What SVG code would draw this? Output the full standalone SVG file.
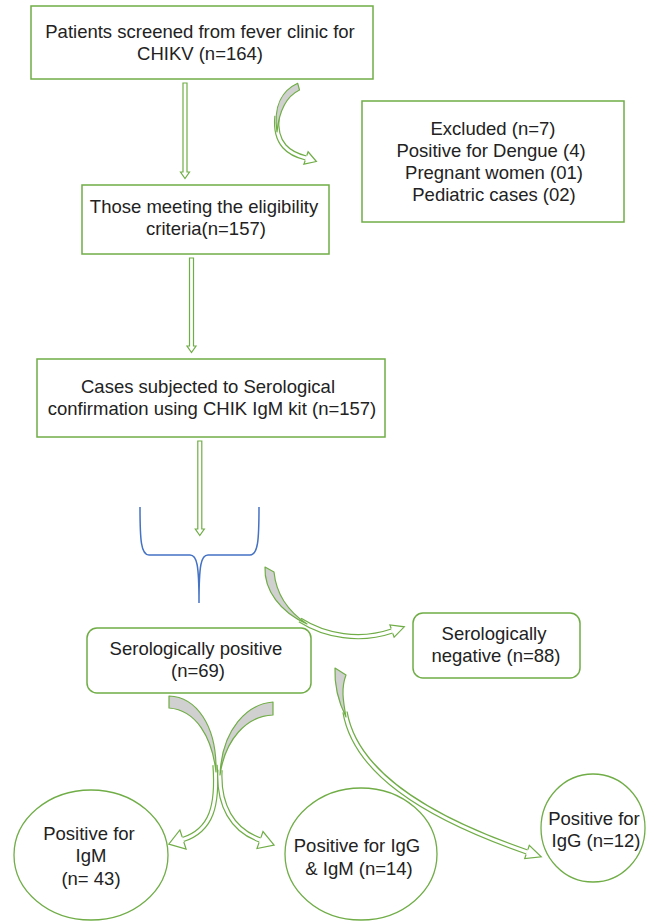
<svg xmlns="http://www.w3.org/2000/svg" width="662" height="923" viewBox="0 0 662 923">
<style>
.box{fill:#fff;stroke:#70AD47;stroke-width:1.5}
.circ{fill:#fff;stroke:#70AD47;stroke-width:1.3}
.t{font-family:"Liberation Sans",Arial,sans-serif;font-size:18.5px;fill:#222;text-anchor:middle}
.arr{fill:#fff;stroke:#70AD47;stroke-width:1.2;stroke-linejoin:miter}
.bandO{fill:none;stroke:#70AD47;stroke-width:5.4}
.bandI{fill:none;stroke:#fff;stroke-width:3}
.lens{fill:#D0D0D0;stroke:#70AD47;stroke-width:1.2;stroke-linejoin:round}
.brace{fill:none;stroke:#4472C4;stroke-width:1.5}
</style>
<rect width="662" height="923" fill="#fff"/>
<g id="connectors">
  <polygon class="arr" points="183,83 187,83 187,172 189.5,172 185,178.5 180.5,172 183,172"/>
  <polygon class="arr" points="189.5,258 193.5,258 193.5,346 196,346 191.5,352.5 187,346 189.5,346"/>
  <polygon class="arr" points="197.8,441 201.8,441 201.8,529 204.3,529 199.8,535.5 195.3,529 197.8,529"/>
  <path class="bandO" d="M277,116 C274,145 290,154 306,158"/>
  <path class="bandI" d="M277,116 C274,145 290,154 306,158"/>
  <path class="lens" d="M297.7,83.3 L299.5,90 C285,97 279,112 277,132 C273,105 283,90 297.7,83.3 Z"/>
  <path class="arr" d="M306.8,155.5 L308.1,151.8 L316.4,161.5 L303.9,164.2 L305.2,160.5"/>
  <path class="brace" d="M140,507 C140,540 141,555 149,555 L190,555 C197,555 199,565 199,603 C199,565 201,555 208,555 L250,555 C258,555 259,540 259,507"/>
  <path class="bandO" d="M300,620 C325,636 360,642 392,631"/>
  <path class="bandI" d="M300,620 C325,636 360,642 392,631"/>
  <path class="lens" d="M265,567 L274,572 C276,592 286,610 307,624 C280,612 264,590 265,567 Z"/>
  <path class="arr" d="M391.2,628.5 L389.9,624.9 L404.3,626.8 L394.1,637.1 L392.8,633.5"/>
  <path class="bandO" d="M345,712 C355,770 420,815 527,852"/>
  <path class="bandI" d="M345,712 C355,770 420,815 527,852"/>
  <path class="lens" d="M335,668 L346,675 C341,688 343,700 346,717 C340,705 334,690 335,668 Z"/>
  <path class="arr" d="M527.9,849.5 L529.3,845.4 L541.2,856.9 L524.7,858.6 L526.1,854.5"/>
  <path class="bandO" d="M215,765 C218,805 212,830 183,839.5"/>
  <path class="bandI" d="M215,765 C218,805 212,830 183,839.5"/>
  <path class="lens" d="M169,696 C196,697 217,725 216,772 C212,737 196,710 169,708 Z"/>
  <path class="arr" d="M182.2,837 L179.9,830 L168.8,844.2 L186.1,849 L183.8,842"/>
  <path class="bandO" d="M220,770 C218,805 232,830 260,840"/>
  <path class="bandI" d="M220,770 C218,805 232,830 260,840"/>
  <path class="lens" d="M273,702 C248,704 222,728 220,775 C225,740 246,716 273,715 Z"/>
  <path class="arr" d="M260.9,837.6 L263,831.5 L274.1,845 L257,848.5 L259.1,842.4"/>
</g>
<g id="screened">
  <rect class="box" x="31" y="6" width="342" height="73"/>
  <text class="t" x="200" y="38">Patients screened from fever clinic for</text>
  <text class="t" x="200" y="60">CHIKV (n=164)</text>
</g>
<g id="excluded">
  <rect class="box" x="362" y="101" width="262" height="121"/>
  <text class="t" x="493" y="135">Excluded (n=7)</text>
  <text class="t" x="491" y="157">Positive for Dengue (4)</text>
  <text class="t" x="494" y="179">Pregnant women (01)</text>
  <text class="t" x="494" y="201">Pediatric cases (02)</text>
</g>
<g id="eligible">
  <rect class="box" x="82" y="185" width="247" height="69"/>
  <text class="t" x="204" y="213">Those meeting the eligibility</text>
  <text class="t" x="206" y="235">criteria(n=157)</text>
</g>
<g id="serology">
  <rect class="box" x="37" y="359" width="348" height="78"/>
  <text class="t" x="208" y="393">Cases subjected to Serological</text>
  <text class="t" x="212" y="415">confirmation using CHIK IgM kit (n=157)</text>
</g>
<g id="positive">
  <rect class="box" x="87" y="628" width="224" height="65" rx="10"/>
  <text class="t" x="196" y="655">Serologically positive</text>
  <text class="t" x="198" y="677">(n=69)</text>
</g>
<g id="negative">
  <rect class="box" x="413" y="613" width="167" height="65" rx="10"/>
  <text class="t" x="494" y="640">Serologically</text>
  <text class="t" x="496" y="662">negative (n=88)</text>
</g>
<g id="igm">
  <ellipse class="circ" cx="91" cy="855" rx="77" ry="65"/>
  <text class="t" x="89" y="840">Positive for</text>
  <text class="t" x="91" y="862">IgM</text>
  <text class="t" x="91" y="885">(n= 43)</text>
</g>
<g id="iggigm">
  <ellipse class="circ" cx="361" cy="854" rx="76" ry="66"/>
  <text class="t" x="357" y="852">Positive for IgG</text>
  <text class="t" x="359" y="875">&amp; IgM (n=14)</text>
</g>
<g id="igg">
  <ellipse class="circ" cx="593" cy="828" rx="52" ry="54"/>
  <text class="t" x="594" y="825">Positive for</text>
  <text class="t" x="596" y="847">IgG (n=12)</text>
</g>
</svg>
